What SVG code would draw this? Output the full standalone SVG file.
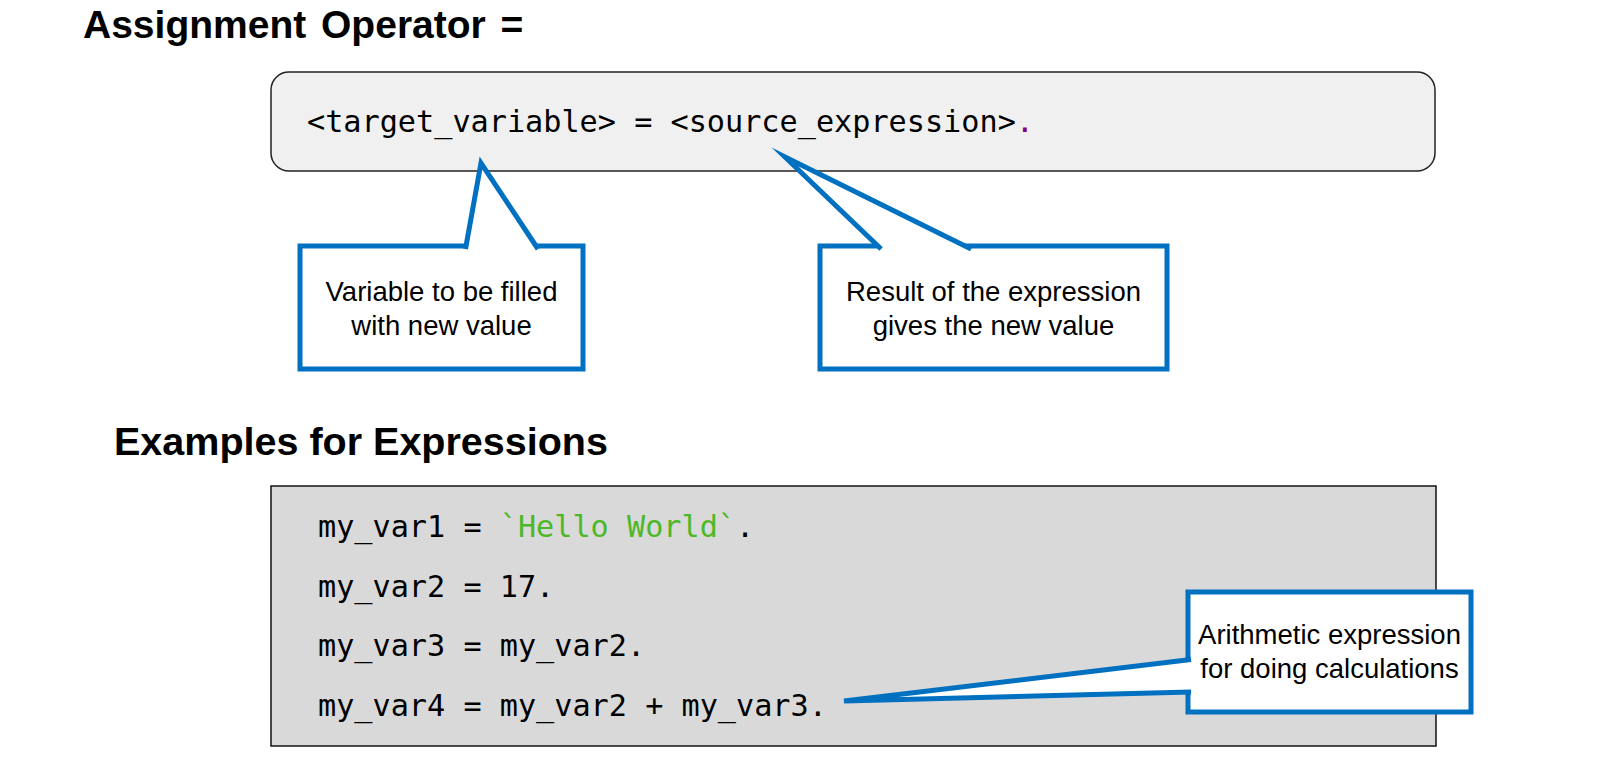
<svg xmlns="http://www.w3.org/2000/svg" width="1600" height="757" viewBox="0 0 1600 757">
<style>
.title{font-family:"Liberation Sans",Arial,sans-serif;font-weight:bold;font-size:40px;fill:#000}
.code{font-family:"DejaVu Sans Mono","Liberation Mono",monospace;font-size:30.2px;fill:#000}
.str{fill:#4cb828}
.kw{fill:#7f0080}
.note{font-family:"Liberation Sans",Arial,sans-serif;font-size:27.5px;fill:#000;text-anchor:middle}
.callout{fill:#fff;stroke:#0070c0;stroke-width:5}
.tail{fill:#fff;stroke:#0070c0;stroke-width:5;stroke-linejoin:miter;stroke-miterlimit:10}
</style>
<rect width="1600" height="757" fill="#fff"/>
<g id="title1"><text class="title" x="83" y="38" style="font-size:39px" word-spacing="4">Assignment Operator =</text></g>
<g id="syntax-box">
<rect x="271" y="72" width="1164" height="99" rx="18" ry="18" fill="#f0f0f0" stroke="#222" stroke-width="1.5"/>
<text class="code" x="307" y="132">&lt;target_variable&gt; = &lt;source_expression&gt;<tspan class="kw">.</tspan></text>
</g>
<g id="title2"><text class="title" x="114" y="455" style="font-size:39.5px">Examples for Expressions</text></g>
<g id="examples-box">
<rect x="271" y="486" width="1165" height="260" fill="#d9d9d9" stroke="#111" stroke-width="1.5"/>
<text class="code" x="318" y="537">my_var1 = <tspan class="str">`Hello World`</tspan>.</text>
<text class="code" x="318" y="597">my_var2 = 17.</text>
<text class="code" x="318" y="656">my_var3 = my_var2.</text>
<text class="code" x="318" y="716">my_var4 = my_var2 + my_var3.</text>
</g>
<g id="note-target">
<rect class="callout" x="300" y="246" width="283" height="123"/>
<text class="note" x="441.5" y="301">Variable to be filled</text>
<text class="note" x="441.5" y="334.5">with new value</text>
</g>
<g id="note-source">
<rect class="callout" x="820" y="246" width="347" height="123"/>
<text class="note" x="993.5" y="301">Result of the expression</text>
<text class="note" x="993.5" y="334.5">gives the new value</text>
</g>
<g id="note-arith">
<rect class="callout" x="1188" y="592" width="283" height="120"/>
<text class="note" x="1329.5" y="644">Arithmetic expression</text>
<text class="note" x="1329.5" y="678">for doing calculations</text>
</g>
<g id="connectors">
<path class="tail" d="M465.5,249 L481,163 L538,249"/>
<path class="tail" d="M881.1,249 L785,157 L971.1,249"/>
<path class="tail" d="M1191,659.6 L844,701 L1191,691.9"/>
</g>
</svg>
